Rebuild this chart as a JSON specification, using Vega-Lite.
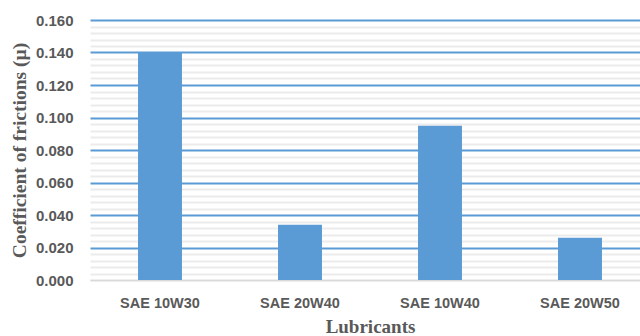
{
  "$schema": "https://vega.github.io/schema/vega-lite/v6.json",
  "autosize": {"type": "none"},
  "padding": {"left": 90, "top": 20, "right": 0, "bottom": 56},
  "width": 560,
  "height": 260,
  "background": "white",
  "config": {"view": {"stroke": null}},
  "data": {"values": [
    {"lubricant": "SAE 10W30", "cof": 0.140},
    {"lubricant": "SAE 20W40", "cof": 0.034},
    {"lubricant": "SAE 10W40", "cof": 0.095},
    {"lubricant": "SAE 20W50", "cof": 0.026}
  ]},
  "mark": {"type": "bar", "color": "#5B9BD5"},
  "encoding": {
    "x": {
      "field": "lubricant",
      "type": "nominal",
      "sort": null,
      "scale": {"paddingInner": 0.686, "paddingOuter": 0.343},
      "axis": {
        "title": "Lubricants",
        "labelAngle": 0,
        "labelFont": "Liberation Sans",
        "labelFontWeight": "bold",
        "labelFontSize": 14.5,
        "labelColor": "#595959",
        "labelPadding": 16,
        "ticks": false,
        "domain": true,
        "domainColor": "#d9d9d9",
        "domainWidth": 1.5,
        "titleFont": "Liberation Serif",
        "titleFontWeight": "bold",
        "titleFontSize": 19,
        "titleColor": "#595959",
        "titlePadding": 8
      }
    },
    "y": {
      "field": "cof",
      "type": "quantitative",
      "scale": {"domain": [0, 0.16], "nice": false},
      "axis": {
        "title": "Coefficient of frictions (µ)",
        "values": [0, 0.004, 0.008, 0.012, 0.016, 0.02, 0.024, 0.028, 0.032, 0.036, 0.04, 0.044, 0.048, 0.052, 0.056, 0.06, 0.064, 0.068, 0.072, 0.076, 0.08, 0.084, 0.088, 0.092, 0.096, 0.1, 0.104, 0.108, 0.112, 0.116, 0.12, 0.124, 0.128, 0.132, 0.136, 0.14, 0.144, 0.148, 0.152, 0.156, 0.16],
        "labelExpr": "abs(datum.value*50 - round(datum.value*50)) < 0.001 ? format(datum.value, '.3f') : ''",
        "labelOverlap": false,
        "labelFont": "Liberation Sans",
        "labelFontWeight": "bold",
        "labelFontSize": 15,
        "labelColor": "#595959",
        "labelPadding": 17,
        "ticks": false,
        "domain": false,
        "grid": true,
        "gridColor": {"condition": {"test": "datum.value > 0.001 && abs(datum.value*50 - round(datum.value*50)) < 0.001", "value": "#5B9BD5"}, "value": "#ebebeb"},
        "gridWidth": 2,
        "titleFont": "Liberation Serif",
        "titleFontWeight": "bold",
        "titleFontSize": 19.5,
        "titleColor": "#595959",
        "titlePadding": 6
      }
    }
  }
}
